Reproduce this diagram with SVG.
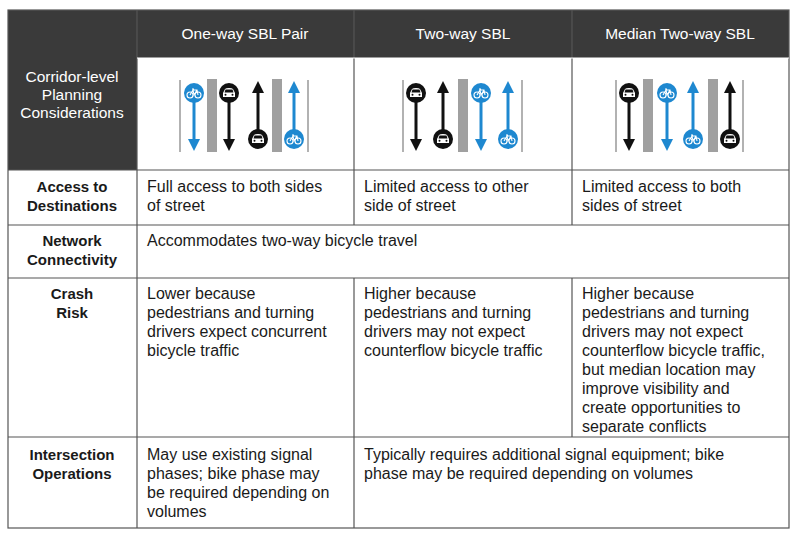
<svg xmlns="http://www.w3.org/2000/svg" width="792" height="535" viewBox="0 0 792 535">
<defs>
<style>
text{font-family:"Liberation Sans",Arial,sans-serif;font-size:16px;fill:#1a1a1a}
.h{fill:#fff;font-size:15.5px}
.c1{fill:#fff;font-size:15.5px}
.b{font-weight:bold;text-anchor:middle;font-size:15px}
.grid{stroke:#555;stroke-width:1.2;fill:none}
.thin{stroke:#999;stroke-width:1.5}
.bar{fill:#a0a0a0}
.ak{stroke:#111;stroke-width:3}
.ab{stroke:#1e88d0;stroke-width:3}
</style>
<g id="car"><circle r="10" fill="#111"/><path d="M-6,0 L-4,-4 Q-3,-5 0,-5 Q3,-5 4,-4 L6,0 L6,4 L-6,4 Z" fill="#fff"/><path d="M-3.5,-3.5 L3.5,-3.5 L4.5,-0.5 L-4.5,-0.5 Z" fill="#111"/><circle cx="-3.5" cy="1.8" r="1" fill="#111"/><circle cx="3.5" cy="1.8" r="1" fill="#111"/></g>
<g id="bike"><circle r="10" fill="#1e88d0"/><g stroke="#fff" stroke-width="1.1" fill="none"><circle cx="-4" cy="2" r="3"/><circle cx="4" cy="2" r="3"/><path d="M-4,2 L-1,-3 L3,-3 L4,2 M-1,-3 L0,2 L3,-3 M-2,-4 L0,-4"/></g></g>
<marker id="mk" markerWidth="4" markerHeight="4" refX="2" refY="2" orient="auto" markerUnits="strokeWidth"><path d="M0,0 L4,2 L0,4 Z" fill="#111"/></marker>
<marker id="mb" markerWidth="4" markerHeight="4" refX="2" refY="2" orient="auto" markerUnits="strokeWidth"><path d="M0,0 L4,2 L0,4 Z" fill="#1e88d0"/></marker>
</defs>
<rect width="792" height="535" fill="#fff"/>
<g id="header">
<rect x="8" y="10" width="781" height="48" fill="#3a3a3a"/>
<rect x="8" y="58" width="129" height="112" fill="#3a3a3a"/>
<text class="h" x="245" y="39" text-anchor="middle">One-way SBL Pair</text>
<text class="h" x="463" y="39" text-anchor="middle">Two-way SBL</text>
<text class="h" x="680" y="39" text-anchor="middle">Median Two-way SBL</text>
<text class="c1" x="72" y="82" text-anchor="middle">Corridor-level</text>
<text class="c1" x="72" y="100" text-anchor="middle">Planning</text>
<text class="c1" x="72" y="118" text-anchor="middle">Considerations</text>
</g>
<g id="grid" class="grid">
<rect x="8" y="10" width="781" height="518"/>
<line x1="137" y1="10" x2="137" y2="528"/>
<line x1="354" y1="10" x2="354" y2="225"/><line x1="354" y1="278" x2="354" y2="528"/>
<line x1="572" y1="10" x2="572" y2="225"/><line x1="572" y1="278" x2="572" y2="437"/>
<line x1="8" y1="170" x2="789" y2="170"/>
<line x1="8" y1="225" x2="789" y2="225"/>
<line x1="8" y1="278" x2="789" y2="278"/>
<line x1="8" y1="437" x2="789" y2="437"/>
<line x1="137" y1="58" x2="789" y2="58" stroke="#fff"/>
</g>
<g id="icon1">
<line class="thin" x1="180" y1="80" x2="180" y2="152"/><rect class="bar" x="207" y="79" width="10" height="73"/><rect class="bar" x="272" y="79" width="10" height="73"/><line class="thin" x1="308" y1="80" x2="308" y2="152"/>
<line class="ab" x1="194" y1="100" x2="194" y2="145" marker-end="url(#mb)"/><use href="#bike" x="194" y="93"/>
<line class="ak" x1="229" y1="100" x2="229" y2="145" marker-end="url(#mk)"/><use href="#car" x="229" y="93"/>
<line class="ak" x1="258" y1="132" x2="258" y2="87" marker-end="url(#mk)"/><use href="#car" x="258" y="139"/>
<line class="ab" x1="294" y1="132" x2="294" y2="87" marker-end="url(#mb)"/><use href="#bike" x="294" y="139"/>
</g>
<g id="icon2">
<line class="thin" x1="403" y1="80" x2="403" y2="152"/><rect class="bar" x="458" y="79" width="10" height="73"/><line class="thin" x1="522" y1="80" x2="522" y2="152"/>
<line class="ak" x1="416" y1="100" x2="416" y2="145" marker-end="url(#mk)"/><use href="#car" x="416" y="93"/>
<line class="ak" x1="443" y1="132" x2="443" y2="87" marker-end="url(#mk)"/><use href="#car" x="443" y="139"/>
<line class="ab" x1="481" y1="100" x2="481" y2="145" marker-end="url(#mb)"/><use href="#bike" x="481" y="93"/>
<line class="ab" x1="508" y1="132" x2="508" y2="87" marker-end="url(#mb)"/><use href="#bike" x="508" y="139"/>
</g>
<g id="icon3">
<line class="thin" x1="616" y1="80" x2="616" y2="152"/><rect class="bar" x="643" y="79" width="10" height="73"/><rect class="bar" x="708" y="79" width="10" height="73"/><line class="thin" x1="743" y1="80" x2="743" y2="152"/>
<line class="ak" x1="629" y1="100" x2="629" y2="145" marker-end="url(#mk)"/><use href="#car" x="629" y="93"/>
<line class="ab" x1="667" y1="100" x2="667" y2="145" marker-end="url(#mb)"/><use href="#bike" x="667" y="93"/>
<line class="ab" x1="693" y1="132" x2="693" y2="87" marker-end="url(#mb)"/><use href="#bike" x="693" y="139"/>
<line class="ak" x1="730" y1="132" x2="730" y2="87" marker-end="url(#mk)"/><use href="#car" x="730" y="139"/>
</g>
<g id="row-access">
<text class="b" x="72" y="192">Access to</text><text class="b" x="72" y="211">Destinations</text>
<text x="147" y="192">Full access to both sides</text><text x="147" y="211">of street</text>
<text x="364" y="192">Limited access to other</text><text x="364" y="211">side of street</text>
<text x="582" y="192">Limited access to both</text><text x="582" y="211">sides of street</text>
</g>
<g id="row-network">
<text class="b" x="72" y="246">Network</text><text class="b" x="72" y="265">Connectivity</text>
<text x="147" y="246">Accommodates two-way bicycle travel</text>
</g>
<g id="row-crash">
<text class="b" x="72" y="299">Crash</text><text class="b" x="72" y="318">Risk</text>
<text x="147" y="299">Lower because</text><text x="147" y="318">pedestrians and turning</text><text x="147" y="337">drivers expect concurrent</text><text x="147" y="356">bicycle traffic</text>
<text x="364" y="299">Higher because</text><text x="364" y="318">pedestrians and turning</text><text x="364" y="337">drivers may not expect</text><text x="364" y="356">counterflow bicycle traffic</text>
<text x="582" y="299">Higher because</text><text x="582" y="318">pedestrians and turning</text><text x="582" y="337">drivers may not expect</text><text x="582" y="356">counterflow bicycle traffic,</text><text x="582" y="375">but median location may</text><text x="582" y="394">improve visibility and</text><text x="582" y="413">create opportunities to</text><text x="582" y="432">separate conflicts</text>
</g>
<g id="row-intersection">
<text class="b" x="72" y="460">Intersection</text><text class="b" x="72" y="479">Operations</text>
<text x="147" y="460">May use existing signal</text><text x="147" y="479">phases; bike phase may</text><text x="147" y="498">be required depending on</text><text x="147" y="517">volumes</text>
<text x="364" y="460">Typically requires additional signal equipment; bike</text><text x="364" y="479">phase may be required depending on volumes</text>
</g>
</svg>
